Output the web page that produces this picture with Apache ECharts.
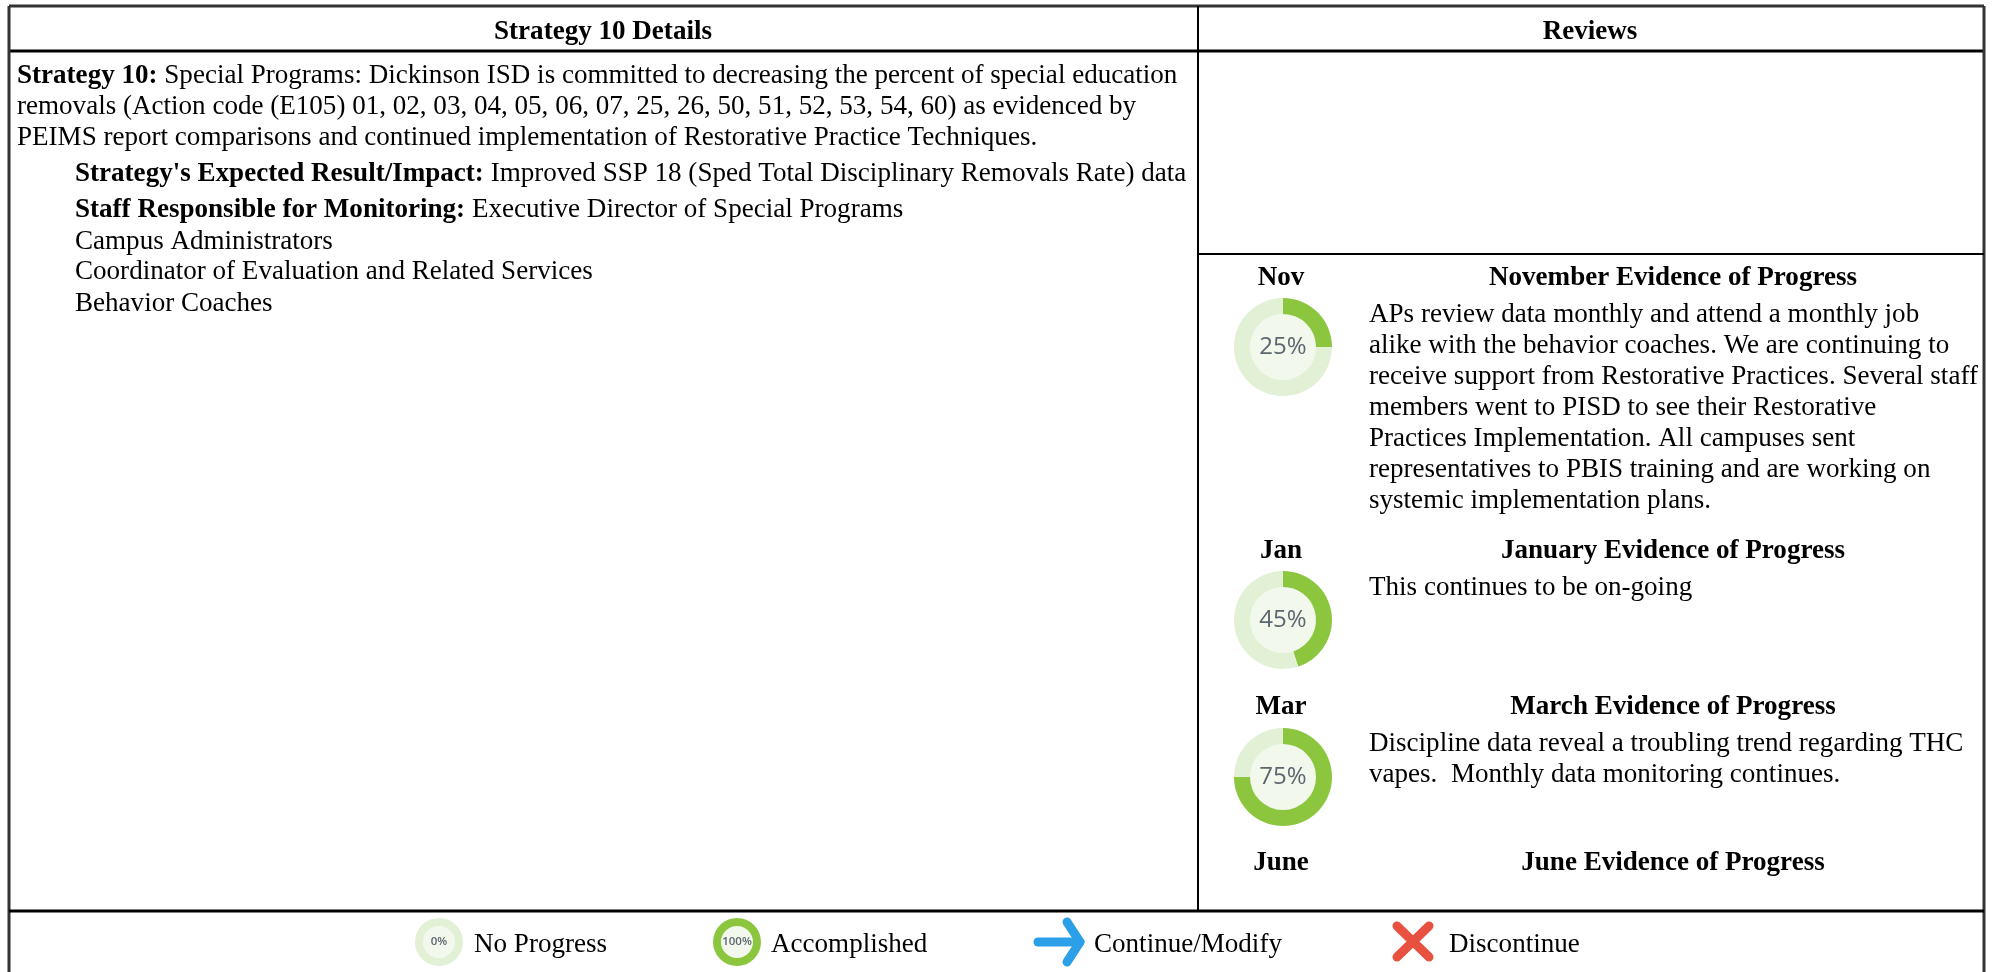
<!DOCTYPE html>
<html>
<head>
<meta charset="utf-8">
<style>
  html, body { margin: 0; padding: 0; background: #fff; }
  #chart { width: 1995px; height: 972px; }
</style>
<script src="https://cdn.jsdelivr.net/npm/echarts@6/dist/echarts.min.js"></script>
</head>
<body>
<div id="chart"></div>
<script>
const reviewMonths = ['Nov', 'Jan', 'Mar', 'June']
const reviewTitles = ['November Evidence of Progress', 'January Evidence of Progress', 'March Evidence of Progress', 'June Evidence of Progress']
const reviewProgress = [25, 45, 75]
const legendProgress = [0, 100]
const legendLabels = ['No Progress', 'Accomplished', 'Continue/Modify', 'Discontinue']

const strategyLines = [
  '{b|Strategy 10:} Special Programs: Dickinson ISD is committed to decreasing the percent of special education',
  'removals (Action code (E105) 01, 02, 03, 04, 05, 06, 07, 25, 26, 50, 51, 52, 53, 54, 60) as evidenced by',
  'PEIMS report comparisons and continued implementation of Restorative Practice Techniques.',
]
const detailLines = [
  "{b|Strategy's Expected Result/Impact:} Improved SSP 18 (Sped Total Disciplinary Removals Rate) data",
  '{b|Staff Responsible for Monitoring:} Executive Director of Special Programs',
  'Campus Administrators',
  'Coordinator of Evaluation and Related Services',
  'Behavior Coaches',
]
const novemberLines = [
  'APs review data monthly and attend a monthly job',
  'alike with the behavior coaches. We are continuing to',
  'receive support from Restorative Practices. Several staff',
  'members went to PISD to see their Restorative',
  'Practices Implementation. All campuses sent',
  'representatives to PBIS training and are working on',
  'systemic implementation plans.',
]
const januaryLines = ['This continues to be on-going']
const marchLines = [
  'Discipline data reveal a troubling trend regarding THC',
  'vapes.  Monthly data monitoring continues.',
]

const GREEN = '#8cc63f'
const PALE = '#e2f0d5'
const HUB = '#f2f8ec'
const FONT = '"Liberation Serif", serif'
const SIZE = 27.07

const text = (x, y, str, opts = {}) => ({
  type: 'text',
  x,
  y: y + 1,
  z: 5,
  silent: true,
  style: {
    text: str,
    fontFamily: FONT,
    fontSize: SIZE,
    fill: '#000',
    verticalAlign: 'middle',
    align: opts.align || 'left',
    fontWeight: opts.bold ? 'bold' : 'normal',
    rich: { b: { fontFamily: FONT, fontSize: SIZE, fontWeight: 'bold', fill: '#000' } },
  },
})

const rule = (x1, y1, x2, y2, stroke = '#000', lineWidth = 2) => ({
  type: 'line',
  z: 4,
  silent: true,
  shape: { x1, y1, x2, y2 },
  style: { stroke, lineWidth },
})

const icon = (points, color) => ({
  type: 'polyline',
  z: 4,
  silent: true,
  shape: { points },
  style: { stroke: color, lineWidth: 9, lineCap: 'round', lineJoin: 'round', fill: null },
})

const centerLabel = (value, labelSize, fontWeight) => ({
  show: true,
  position: 'center',
  formatter: value + '%',
  fontFamily: '"Open Sans", sans-serif',
  fontSize: labelSize,
  fontWeight,
  color: '#5b6670',
})

// one donut is a hub pie under a ring pie
const donut = (value, center, outer, inner, labelSize, fontWeight = 'normal') => [
  {
    type: 'pie',
    silent: true,
    animation: false,
    center,
    radius: [0, inner],
    label: { show: false },
    labelLine: { show: false },
    data: [{ value: 1, itemStyle: { color: HUB } }],
    z: 1,
  },
  {
    type: 'pie',
    silent: true,
    animation: false,
    center,
    radius: [inner, outer],
    startAngle: 90,
    clockwise: true,
    avoidLabelOverlap: false,
    labelLine: { show: false },
    label: { show: false },
    z: 2,
    data: [
      { value, itemStyle: { color: GREEN }, label: value > 0 ? centerLabel(value, labelSize, fontWeight) : { show: false } },
      { value: 100 - value, itemStyle: { color: PALE }, label: value === 0 ? centerLabel(value, labelSize, fontWeight) : { show: false } },
    ],
  },
]

const reviewY = [347, 620, 777]
const series = []
reviewProgress.forEach((v, i) => series.push(...donut(v, [1283, reviewY[i]], 49, 33, 24)))
legendProgress.forEach((v, i) => series.push(...donut(v, [[439, 737][i], 942], 24, 16, 11.5, 600)))

const graphic = [
  rule(9, 6, 1984, 6, '#333', 3),
  rule(9, 51, 1984, 51, '#000', 3),
  rule(9, 6, 9, 972, '#333', 3),
  rule(1984, 6, 1984, 972, '#333', 3),
  rule(1198, 6, 1198, 911),
  rule(1198, 254, 1984, 254),
  rule(9, 911, 1984, 911, '#000', 3),
  text(603, 31, 'Strategy 10 Details', { align: 'center', bold: true }),
  text(1590, 31, 'Reviews', { align: 'center', bold: true }),
  text(1281, 277, reviewMonths[0], { align: 'center', bold: true }),
  text(1281, 550, reviewMonths[1], { align: 'center', bold: true }),
  text(1281, 706, reviewMonths[2], { align: 'center', bold: true }),
  text(1281, 862, reviewMonths[3], { align: 'center', bold: true }),
  text(1673, 277, reviewTitles[0], { align: 'center', bold: true }),
  text(1673, 550, reviewTitles[1], { align: 'center', bold: true }),
  text(1673, 706, reviewTitles[2], { align: 'center', bold: true }),
  text(1673, 862, reviewTitles[3], { align: 'center', bold: true }),
  text(474, 944, legendLabels[0]),
  text(771, 944, legendLabels[1]),
  text(1094, 944, legendLabels[2]),
  text(1449, 944, legendLabels[3]),
  icon([[1038, 942], [1080, 942]], '#2b9fe8'),
  icon([[1067, 922], [1080, 942], [1067, 962]], '#2b9fe8'),
  icon([[1397, 926], [1429, 957]], '#e8503f'),
  icon([[1429, 926], [1397, 957]], '#e8503f'),
]
const strategyY = [75, 106, 137]
strategyLines.forEach((s, i) => graphic.push(text(17, strategyY[i], s)))
const detailY = [173, 209, 241, 271, 303]
detailLines.forEach((s, i) => graphic.push(text(75, detailY[i], s)))
novemberLines.forEach((s, i) => graphic.push(text(1369, 314 + i * 31, s)))
januaryLines.forEach((s) => graphic.push(text(1369, 587, s)))
marchLines.forEach((s, i) => graphic.push(text(1369, 743 + i * 31, s)))

const chart = echarts.init(document.getElementById('chart'))
chart.setOption({
  backgroundColor: '#fff',
  animation: false,
  graphic,
  series,
})
</script>
</body>
</html>
